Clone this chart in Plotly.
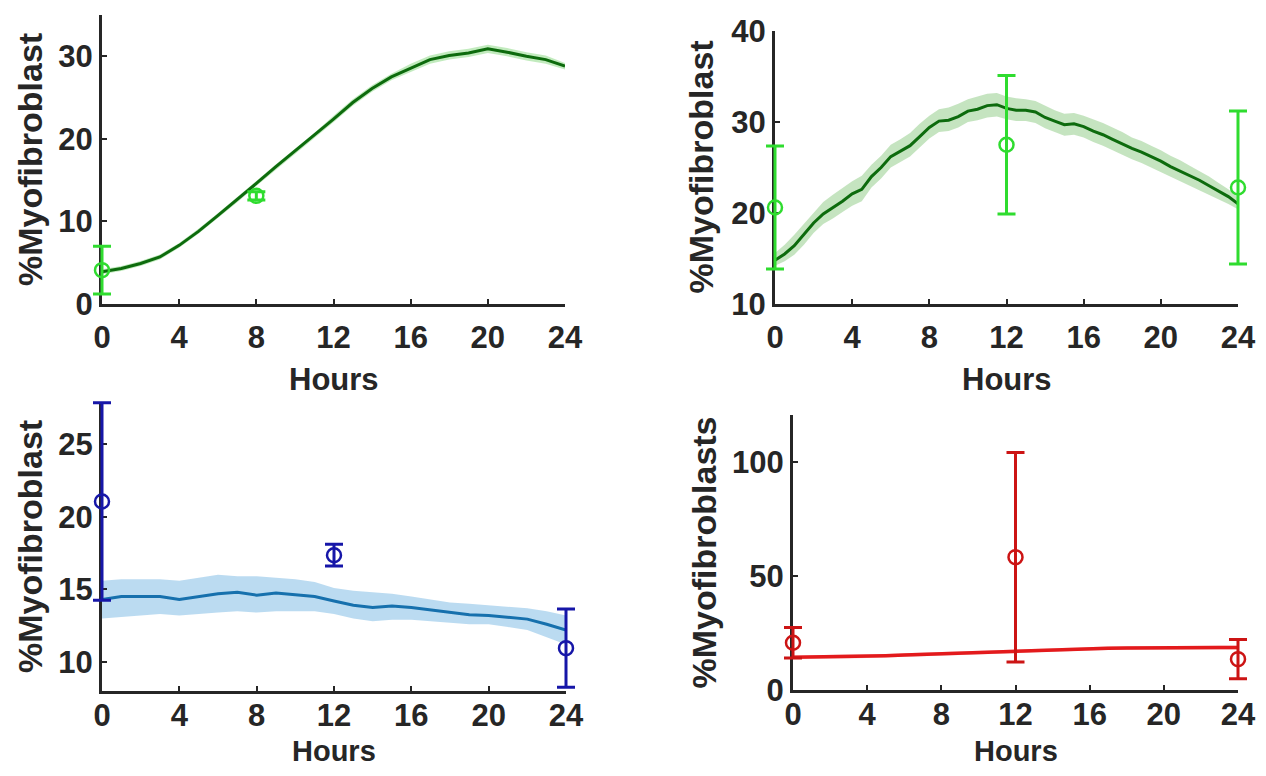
import plotly.graph_objects as go

# ---------------- data ----------------
hours = list(range(0, 25))
hours_half = [i * 0.5 for i in range(0, 49)]
x_ticks = [0, 4, 8, 12, 16, 20, 24]

# Panel A (top-left)
a_mean = [3.9, 4.3, 4.9, 5.7, 7.1, 8.8, 10.7, 12.6, 14.6, 16.6, 18.5, 20.4, 22.4,
          24.4, 26.1, 27.5, 28.6, 29.6, 30.1, 30.4, 30.9, 30.5, 30.0, 29.6, 28.8]
a_upper = [4.2, 4.6, 5.2, 6.0, 7.4, 9.1, 11.0, 12.9, 14.9, 16.9, 18.8, 20.7, 22.8,
           24.8, 26.5, 27.9, 29.1, 30.1, 30.6, 30.9, 31.4, 31.0, 30.5, 30.1, 29.2]
a_lower = [3.6, 4.0, 4.6, 5.4, 6.8, 8.5, 10.4, 12.3, 14.3, 16.3, 18.2, 20.1, 22.0,
           24.0, 25.7, 27.1, 28.1, 29.1, 29.6, 29.9, 30.4, 30.0, 29.5, 29.1, 28.4]
a_obs_x = [0, 8]
a_obs_y = [4.1, 13.1]
a_obs_err = [2.9, 0.5]
a_yticks = [0, 10, 20, 30]

# Panel B (top-right)
b_mean = [14.8, 15.5, 16.4, 17.6, 18.9, 19.9, 20.6, 21.3, 22.1, 22.6, 24.0, 25.0, 26.2,
          26.8, 27.4, 28.4, 29.4, 30.1, 30.2, 30.6, 31.2, 31.4, 31.8, 31.9, 31.5,
          31.3, 31.3, 31.1, 30.5, 30.1, 29.7, 29.8, 29.5, 29.0, 28.6, 28.1, 27.6,
          27.1, 26.7, 26.2, 25.7, 25.1, 24.6, 24.1, 23.6, 23.0, 22.4, 21.8, 21.0]
b_upper = [15.6, 16.5, 17.6, 18.8, 20.1, 21.2, 22.0, 22.8, 23.5, 24.1, 25.3, 26.3, 27.5,
           28.1, 28.8, 29.8, 30.7, 31.4, 31.6, 32.0, 32.5, 32.8, 33.1, 33.2, 32.8,
           32.6, 32.5, 32.3, 31.8, 31.3, 30.9, 31.0, 30.7, 30.3, 29.9, 29.4, 28.9,
           28.3, 27.9, 27.4, 26.9, 26.3, 25.8, 25.2, 24.6, 24.0, 23.3, 22.6, 21.7]
b_lower = [14.2, 14.7, 15.4, 16.5, 17.8, 18.8, 19.4, 20.1, 20.8, 21.3, 22.8, 23.8, 25.0,
           25.6, 26.2, 27.2, 28.2, 28.9, 29.0, 29.4, 30.0, 30.2, 30.5, 30.6, 30.3,
           30.1, 30.1, 29.9, 29.3, 28.9, 28.5, 28.6, 28.3, 27.8, 27.4, 26.9, 26.4,
           25.9, 25.5, 25.0, 24.5, 24.0, 23.5, 23.0, 22.5, 22.0, 21.5, 21.0, 20.4]
b_obs_x = [0, 12, 24]
b_obs_y = [20.6, 27.5, 22.8]
b_obs_err = [6.75, 7.6, 8.4]
b_yticks = [10, 20, 30, 40]

# Panel C (bottom-left)
c_mean = [14.3, 14.5, 14.5, 14.5, 14.3, 14.5, 14.7, 14.8, 14.6, 14.75, 14.6, 14.5, 14.2,
          13.9, 13.75, 13.85, 13.75, 13.6, 13.4, 13.25, 13.2, 13.1, 12.95, 12.6, 12.2]
c_upper = [15.6, 15.7, 15.7, 15.7, 15.6, 15.8, 16.0, 15.9, 15.9, 15.8, 15.7, 15.5, 15.1,
           14.9, 14.8, 14.7, 14.5, 14.3, 14.1, 14.0, 13.9, 13.8, 13.7, 13.5, 13.2]
c_lower = [13.0, 13.1, 13.2, 13.3, 13.2, 13.3, 13.4, 13.5, 13.4, 13.5, 13.5, 13.5, 13.3,
           13.0, 12.8, 12.9, 12.9, 12.8, 12.7, 12.6, 12.6, 12.4, 12.2, 11.7, 11.2]
c_obs_x = [0, 12, 24]
c_obs_y = [21.05, 17.35, 10.95]
c_obs_err = [6.8, 0.75, 2.7]
c_yticks = [10, 15, 20, 25]

# Panel D (bottom-right)
d_mean = [14.3, 14.4, 14.5, 14.6, 14.8, 15.0, 15.3, 15.6, 15.9, 16.1, 16.4, 16.6, 16.9,
          17.3, 17.6, 17.9, 18.1, 18.3, 18.4, 18.5, 18.5, 18.6, 18.6, 18.6, 18.6]
d_upper = [15.1, 15.2, 15.3, 15.4, 15.6, 15.8, 16.1, 16.4, 16.7, 16.9, 17.2, 17.4, 17.7,
           18.1, 18.4, 18.7, 18.9, 19.1, 19.2, 19.3, 19.3, 19.4, 19.4, 19.4, 19.4]
d_lower = [13.5, 13.6, 13.7, 13.8, 14.0, 14.2, 14.5, 14.8, 15.1, 15.3, 15.6, 15.8, 16.1,
           16.5, 16.8, 17.1, 17.3, 17.5, 17.6, 17.7, 17.7, 17.8, 17.8, 17.8, 17.8]
d_obs_x = [0, 12, 24]
d_obs_y = [20.7, 58.2, 13.5]
d_obs_err = [6.7, 45.9, 8.6]
d_yticks = [0, 50, 100]

ylabel_abc = "%Myofibroblast"
ylabel_d = "%Myofibroblasts"
xlabel = "Hours"

# ---------------- styling ----------------
# The page body has an 8 px margin; the figure is sized so the page is exactly 1266x776,
# and positions below are given in page pixels, then shifted by that margin.
OFF = 8
W, H = 1266 - 2 * OFF, 776 - 2 * OFF
FONT = "Liberation Sans, Arial, sans-serif"
TXT = "#262626"
PAD = 20  # px of extra room for the observation overlay axes (so error bars are not clipped)

# xly: page y of the x-title anchor; xanc: its anchor side; xso: x tick label standoff
panels = [
    dict(x=hours, m=a_mean, u=a_upper, l=a_lower, ox=a_obs_x, oy=a_obs_y, oe=a_obs_err,
         yt=a_yticks, yr=[0, 35], line="#0d6b0d", lw=3, band="rgba(120,210,110,0.45)", mk="#2fdc2f",
         px=(102, 565), py=(15, 304), ylab=ylabel_abc, ylx=29.5, xly=361, xanc="top", xso=4, xfs=31),
    dict(x=hours_half, m=b_mean, u=b_upper, l=b_lower, ox=b_obs_x, oy=b_obs_y, oe=b_obs_err,
         yt=b_yticks, yr=[10, 40], line="#0d6b0d", lw=3, band="rgba(150,205,140,0.55)", mk="#2fdc2f",
         px=(775, 1238), py=(31, 304), ylab=ylabel_abc, ylx=700, xly=361, xanc="top", xso=4, xfs=31),
    dict(x=hours, m=c_mean, u=c_upper, l=c_lower, ox=c_obs_x, oy=c_obs_y, oe=c_obs_err,
         yt=c_yticks, yr=[8.0, 27.9], line="#1670ad", lw=3, band="rgba(170,210,238,0.8)", mk="#1616a8",
         px=(102, 566), py=(402, 691), ylab=ylabel_abc, ylx=29.5, xly=768, xanc="bottom", xso=-5, xfs=29),
    dict(x=hours, m=d_mean, u=d_upper, l=d_lower, ox=d_obs_x, oy=d_obs_y, oe=d_obs_err,
         yt=d_yticks, yr=[0, 120.5], line="#e31a1c", lw=3.5, band="rgba(245,160,160,0.6)", mk="#cc1414",
         px=(793, 1238), py=(415, 690), ylab=ylabel_d, ylx=703, xly=768, xanc="bottom", xso=-5, xfs=29),
]

fig = go.Figure()
layout = dict(width=W, height=H, margin=dict(l=0, r=0, t=0, b=0), template="none",
              paper_bgcolor="white", plot_bgcolor="rgba(0,0,0,0)", showlegend=False,
              annotations=[])

for i, p in enumerate(panels, start=1):
    xa = "x" if i == 1 else f"x{i}"
    ya = "y" if i == 1 else f"y{i}"
    ox_name, oy_name = f"x{i + 4}", f"y{i + 4}"
    # shaded band
    fig.add_trace(go.Scatter(
        x=list(p["x"]) + list(p["x"])[::-1], y=list(p["u"]) + list(p["l"])[::-1],
        fill="toself", fillcolor=p["band"], line=dict(width=0), mode="lines",
        hoverinfo="skip", xaxis=xa, yaxis=ya))
    # mean line
    fig.add_trace(go.Scatter(x=p["x"], y=p["m"], mode="lines",
                             line=dict(color=p["line"], width=p["lw"]),
                             xaxis=xa, yaxis=ya))
    # observations (on an invisible overlay axis pair with identical scale, wider extent)
    fig.add_trace(go.Scatter(
        x=p["ox"], y=p["oy"], mode="markers", cliponaxis=False,
        marker=dict(symbol="circle-open", size=14, color=p["mk"], line=dict(width=2.5, color=p["mk"])),
        error_y=dict(type="data", array=p["oe"], color=p["mk"], thickness=3, width=9),
        xaxis=ox_name, yaxis=oy_name))

    x0, x1 = p["px"][0] - OFF, p["px"][1] - OFF
    ytop, ybot = p["py"][0] - OFF, p["py"][1] - OFF
    xdom = [x0 / W, x1 / W]
    ydom = [1 - ybot / H, 1 - ytop / H]
    common = dict(showline=True, linewidth=3, linecolor=TXT, ticks="inside", ticklen=5,
                  tickwidth=2, tickcolor=TXT, showgrid=False, zeroline=False, automargin=False,
                  tickfont=dict(family=FONT, size=31, color=TXT, weight="bold"))
    layout["xaxis" if i == 1 else f"xaxis{i}"] = dict(
        domain=xdom, range=[0, 24], tickvals=x_ticks, anchor=ya,
        ticklabelstandoff=p["xso"], **common)
    layout["yaxis" if i == 1 else f"yaxis{i}"] = dict(
        domain=ydom, range=p["yr"], tickvals=p["yt"], anchor=xa,
        ticklabelstandoff=0, **common)

    # overlay axes: same units per pixel, extended by a few pixels on every side
    xppu = (x1 - x0) / 24.0
    y0r, y1r = p["yr"]
    yppu = (ybot - ytop) / (y1r - y0r)
    pl, pr = min(PAD, x0), min(PAD, W - x1)
    pt, pb = min(PAD, ytop), min(PAD, H - ybot)
    hidden = dict(visible=False, showgrid=False, zeroline=False, automargin=False, fixedrange=True)
    layout[f"xaxis{i + 4}"] = dict(
        domain=[(x0 - pl) / W, (x1 + pr) / W],
        range=[0 - pl / xppu, 24 + pr / xppu], anchor=oy_name, **hidden)
    layout[f"yaxis{i + 4}"] = dict(
        domain=[1 - (ybot + pb) / H, 1 - (ytop - pt) / H],
        range=[y0r - pb / yppu, y1r + pt / yppu], anchor=ox_name, **hidden)

    # axis titles
    layout["annotations"].append(dict(
        text=xlabel, x=(x0 + x1) / 2 / W, y=1 - (p["xly"] - OFF) / H, xref="paper", yref="paper",
        xanchor="center", yanchor=p["xanc"], showarrow=False, borderpad=0,
        font=dict(family=FONT, size=p["xfs"], color=TXT, weight="bold")))
    layout["annotations"].append(dict(
        text=p["ylab"], x=(p["ylx"] - OFF) / W, y=1 - (ytop + ybot) / 2 / H,
        xref="paper", yref="paper",
        xanchor="center", yanchor="middle", showarrow=False, textangle=-90,
        font=dict(family=FONT, size=34, color=TXT, weight="bold")))

fig.update_layout(**layout)
fig.write_html("out.html")
